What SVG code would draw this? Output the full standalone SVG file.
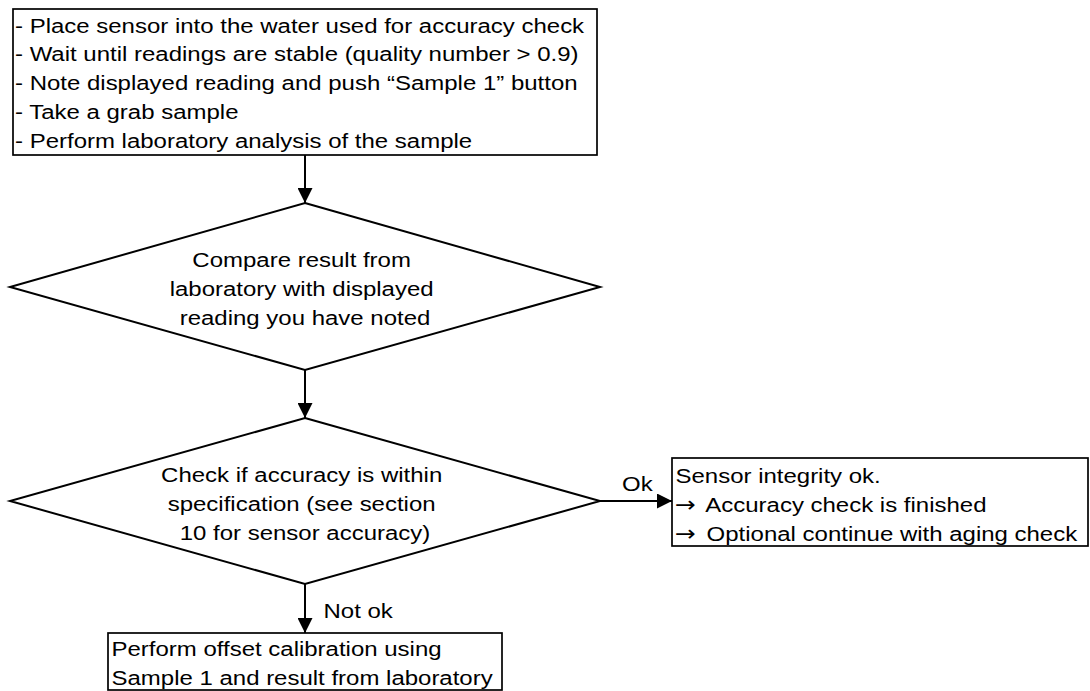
<svg xmlns="http://www.w3.org/2000/svg" width="1090" height="691" viewBox="0 0 1090 691">
  <style>
    .box { fill: #ffffff; stroke: #000000; stroke-width: 1.7; }
    .dia { fill: #ffffff; stroke: #000000; stroke-width: 2; stroke-linejoin: miter; }
    .t { font-family: "Liberation Sans", Arial, Helvetica, sans-serif; font-size: 24px; fill: #000000; }
    .c { text-anchor: middle; }
    .arr { font-family: "DejaVu Sans", sans-serif; font-size: 25px; }
    .edge { fill: none; stroke: #000000; stroke-width: 2; marker-end: url(#ah); }
  </style>
  <defs>
    <marker id="ah" markerUnits="userSpaceOnUse" markerWidth="15" markerHeight="15" refX="15" refY="7.5" orient="auto">
      <path d="M0,0 L15,7.5 L0,15 Z" fill="#000000"/>
    </marker>
  </defs>
  <rect width="1090" height="691" fill="#ffffff"/>

  <g id="connectors">
    <line class="edge" x1="305" y1="155" x2="305" y2="203"/>
    <line class="edge" x1="305" y1="370" x2="305" y2="418"/>
    <line class="edge" x1="305" y1="584" x2="305" y2="633"/>
    <line class="edge" x1="600" y1="501" x2="672" y2="501"/>
    <text class="t" transform="translate(0,618) scale(1,0.875)" x="323.5" y="0">Not ok</text>
    <text class="t" transform="translate(0,491) scale(1,0.875)" x="622" y="0">Ok</text>
  </g>

  <g id="steps-box">
    <rect class="box" x="13" y="9" width="584" height="146"/>
    <text class="t" transform="translate(0,32.5) scale(1,0.875)" x="15" y="0">
      <tspan x="15" dy="0">- Place sensor into the water used for accuracy check</tspan>
      <tspan x="15" dy="32.91">- Wait until readings are stable (quality number &gt; 0.9)</tspan>
      <tspan x="15" dy="32.91">- Note displayed reading and push “Sample 1” button</tspan>
      <tspan x="15" dy="32.91">- Take a grab sample</tspan>
      <tspan x="15" dy="32.91">- Perform laboratory analysis of the sample</tspan>
    </text>
  </g>

  <g id="compare-decision">
    <polygon class="dia" points="305,203 600,287 305,370 10,287"/>
    <text class="t c" transform="translate(0,267) scale(1,0.875)" x="305" y="0">
      <tspan x="305" dy="0">Compare result from</tspan>
      <tspan x="305" dy="32.91">laboratory with displayed</tspan>
      <tspan x="305" dy="32.91">reading you have noted</tspan>
    </text>
  </g>

  <g id="accuracy-decision">
    <polygon class="dia" points="305,418 600,501 305,584 10,501"/>
    <text class="t c" transform="translate(0,482) scale(1,0.875)" x="305" y="0">
      <tspan x="305" dy="0">Check if accuracy is within</tspan>
      <tspan x="305" dy="32.91">specification (see section</tspan>
      <tspan x="305" dy="32.91">10 for sensor accuracy)</tspan>
    </text>
  </g>

  <g id="ok-box">
    <rect class="box" x="672" y="458" width="416" height="88"/>
    <text class="t" transform="translate(0,483) scale(1,0.875)" x="675.5" y="0">
      <tspan x="675.5" dy="0">Sensor integrity ok.</tspan>
      <tspan x="675" dy="32.91"><tspan class="arr">→</tspan><tspan dx="4"> Accuracy check is finished</tspan></tspan>
      <tspan x="675" dy="32.91"><tspan class="arr">→</tspan><tspan dx="4"> Optional continue with aging check</tspan></tspan>
    </text>
  </g>

  <g id="calibration-box">
    <rect class="box" x="108" y="633" width="394" height="57"/>
    <text class="t" transform="translate(0,656) scale(1,0.875)" x="111.5" y="0">
      <tspan x="111.5" dy="0">Perform offset calibration using</tspan>
      <tspan x="111.5" dy="32.91">Sample 1 and result from laboratory</tspan>
    </text>
  </g>
</svg>
